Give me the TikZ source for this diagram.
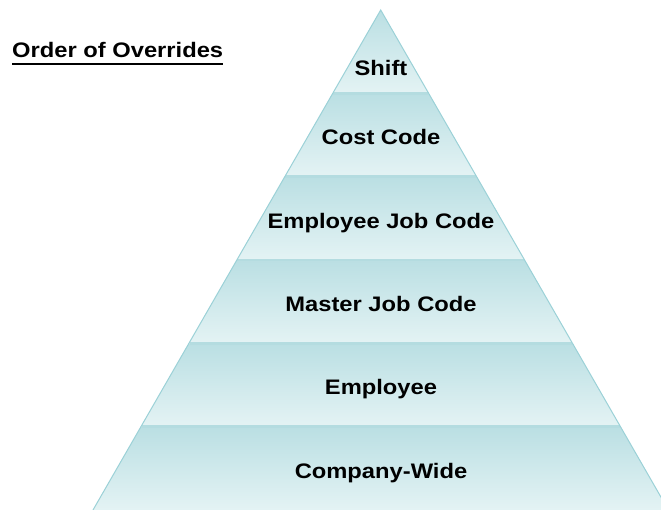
\documentclass[tikz,border=0pt]{standalone}
\usepackage{fontspec}
\setmainfont{Liberation Sans}
\newfontfamily\labfont[FakeStretch=1.13]{Liberation Sans}
\usetikzlibrary{calc}
\definecolor{bandtop}{RGB}{186,223,227}
\definecolor{bandbot}{RGB}{228,243,244}
\definecolor{sepcol}{RGB}{180,220,224}
\definecolor{edgecol}{RGB}{155,209,215}
\tikzset{
  band/.style={top color=bandtop, bottom color=bandbot, draw=none},
  sepline/.style={draw=sepcol, line width=2.5pt},
  edgeline/.style={draw=edgecol, line width=1pt},
  lab/.style={inner sep=0pt, anchor=base, font=\labfont\bfseries\fontsize{21}{24}\selectfont, text=black},
}
\begin{document}
\begin{tikzpicture}[x=1pt,y=-1pt]
\useasboundingbox (0,0) rectangle (661,510);
\clip (0,0) rectangle (661,510);
% bands
\shade[band] (380.7,10) -- (428.6,93.3) -- (332.8,93.3) -- cycle;
\shade[band] (332.8,93.3) -- (428.6,93.3) -- (476.6,176.7) -- (284.8,176.7) -- cycle;
\shade[band] (284.8,176.7) -- (476.6,176.7) -- (524.6,260) -- (236.8,260) -- cycle;
\shade[band] (236.8,260) -- (524.6,260) -- (572.5,343.3) -- (188.9,343.3) -- cycle;
\shade[band] (188.9,343.3) -- (572.5,343.3) -- (620.5,426.7) -- (140.9,426.7) -- cycle;
\shade[band] (140.9,426.7) -- (620.5,426.7) -- (668.4,510) -- (93,510) -- cycle;
% separators
\draw[sepline] (333.4,93.3) -- (428.0,93.3);
\draw[sepline] (285.4,176.7) -- (476.0,176.7);
\draw[sepline] (237.4,260) -- (524.0,260);
\draw[sepline] (189.5,343.3) -- (571.9,343.3);
\draw[sepline] (141.5,426.7) -- (619.9,426.7);
% outline edges
\draw[edgeline] (93,510) -- (380.7,10) -- (668.4,510);
% labels
\node[lab] (shift) at (381,76) {Shift};
\node[lab] (cost) at (381,144.5) {Cost Code};
\node[lab] (ejc) at (381,229) {Employee Job Code};
\node[lab] (mjc) at (381,311.5) {Master Job Code};
\node[lab] (emp) at (381,394.5) {Employee};
\node[lab] (cw) at (381,478) {Company-Wide};
% title
\node[inner sep=0pt, anchor=base west, font=\labfont\bfseries\fontsize{21}{24}\selectfont] (title) at (12,58) {Order of Overrides};
\draw[line width=1.5pt] ($(title.base west)+(0,6)$) -- ($(title.base east)+(0,6)$);
\end{tikzpicture}
\end{document}
